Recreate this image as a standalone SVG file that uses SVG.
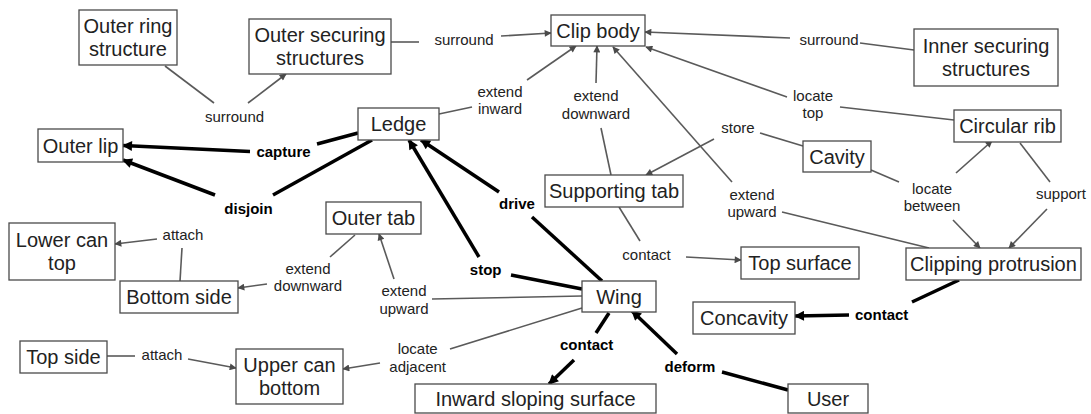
<svg xmlns="http://www.w3.org/2000/svg" width="1091" height="414" viewBox="0 0 1091 414">
<style>
.n rect{fill:#fff;stroke:#4a4a4a;stroke-width:1.3}
.n text{font-family:"Liberation Sans",Arial,sans-serif;font-size:20px;fill:#222;text-anchor:middle}
.l{font-family:"Liberation Sans",Arial,sans-serif;font-size:15px;fill:#222;text-anchor:middle}
.b{font-weight:bold;fill:#000}
.t{stroke:#5a5a5a;stroke-width:1.6;fill:none}
.k{stroke:#000;stroke-width:3.5;fill:none}
.ta{marker-end:url(#ag)}
.ka{marker-end:url(#ak)}
</style>
<defs>
<marker id="ag" viewBox="0 0 10 10" refX="9" refY="5" markerWidth="9" markerHeight="7" markerUnits="userSpaceOnUse" orient="auto"><path d="M0,0 L10,5 L0,10 z" fill="#4a4a4a"/></marker>
<marker id="ak" viewBox="0 0 10 10" refX="9" refY="5" markerWidth="12" markerHeight="10" markerUnits="userSpaceOnUse" orient="auto"><path d="M0,0 L10,5 L0,10 z" fill="#000"/></marker>
</defs>
<rect width="1091" height="414" fill="#fff"/>
<g id="connectors">
<line class="t" x1="165" y1="66" x2="214" y2="103"/>
<line class="t ta" x1="248" y1="103" x2="286" y2="74"/>
<line class="t" x1="391" y1="42" x2="419" y2="42"/>
<line class="t ta" x1="501" y1="36" x2="551" y2="33"/>
<line class="t" x1="439" y1="114" x2="472" y2="107"/>
<line class="t ta" x1="527" y1="80" x2="576" y2="46"/>
<line class="t ta" x1="596" y1="83" x2="597" y2="46"/>
<line class="t" x1="611" y1="175" x2="601" y2="128"/>
<line class="t ta" x1="732" y1="182" x2="613" y2="47"/>
<line class="t ta" x1="790" y1="38" x2="645" y2="32"/>
<line class="t" x1="860" y1="43" x2="914" y2="50"/>
<line class="t ta" x1="787" y1="97" x2="646" y2="47"/>
<line class="t" x1="840" y1="107" x2="954" y2="120"/>
<line class="t" x1="760" y1="133" x2="803" y2="146"/>
<line class="t ta" x1="714" y1="139" x2="646" y2="175"/>
<line class="t" x1="871" y1="170" x2="899" y2="182"/>
<line class="t ta" x1="956" y1="173" x2="992" y2="141"/>
<line class="t" x1="1020" y1="143" x2="1050" y2="182"/>
<line class="t ta" x1="1047" y1="209" x2="1009" y2="248"/>
<line class="t ta" x1="953" y1="220" x2="980" y2="248"/>
<line class="t" x1="782" y1="212" x2="929" y2="248"/>
<line class="t" x1="619" y1="207" x2="640" y2="241"/>
<line class="t ta" x1="686" y1="257" x2="741" y2="260"/>
<line class="t" x1="582" y1="296" x2="432" y2="299"/>
<line class="t ta" x1="394" y1="279" x2="379" y2="234"/>
<line class="t" x1="582" y1="308" x2="450" y2="349"/>
<line class="t ta" x1="380" y1="363" x2="343" y2="369"/>
<line class="t" x1="107" y1="356" x2="135" y2="356"/>
<line class="t ta" x1="188" y1="359" x2="236" y2="368"/>
<line class="t ta" x1="157" y1="239" x2="115" y2="244"/>
<line class="t" x1="180" y1="281" x2="182" y2="248"/>
<line class="t" x1="355" y1="235" x2="330" y2="257"/>
<line class="t ta" x1="267" y1="284" x2="238" y2="288"/>
<line class="k ka" x1="250" y1="151.5" x2="123" y2="145.5"/>
<line class="k" x1="358" y1="133" x2="317" y2="144"/>
<line class="k ka" x1="215" y1="195" x2="123" y2="160"/>
<line class="k" x1="372" y1="140" x2="273" y2="195"/>
<line class="k ka" x1="479" y1="257" x2="409" y2="140"/>
<line class="k" x1="582" y1="289" x2="511" y2="275"/>
<line class="k ka" x1="499" y1="192" x2="421" y2="140"/>
<line class="k" x1="602" y1="281" x2="532" y2="217"/>
<line class="k" x1="609" y1="313" x2="596" y2="333"/>
<line class="k ka" x1="574" y1="360" x2="549" y2="384"/>
<line class="k ka" x1="677" y1="354" x2="632" y2="311"/>
<line class="k" x1="722" y1="372" x2="788" y2="390"/>
<line class="k" x1="959" y1="280" x2="912" y2="302"/>
<line class="k ka" x1="849" y1="315" x2="795" y2="316"/>
</g>
<g id="labels">
<text class="l" x="234.5" y="122">surround</text>
<text class="l" x="464" y="45">surround</text>
<text class="l" x="829" y="45">surround</text>
<text class="l" x="500" y="96.5">extend</text>
<text class="l" x="500" y="114">inward</text>
<text class="l" x="596" y="101">extend</text>
<text class="l" x="596" y="119">downward</text>
<text class="l" x="813" y="101">locate</text>
<text class="l" x="813" y="118">top</text>
<text class="l" x="738" y="132.5">store</text>
<text class="l b" x="283.5" y="157">capture</text>
<text class="l b" x="248.5" y="214">disjoin</text>
<text class="l b" x="517" y="209">drive</text>
<text class="l" x="752" y="200">extend</text>
<text class="l" x="752" y="217">upward</text>
<text class="l" x="932" y="194">locate</text>
<text class="l" x="932" y="211">between</text>
<text class="l" x="1061" y="199">support</text>
<text class="l" x="183" y="239.5">attach</text>
<text class="l" x="308" y="273.5">extend</text>
<text class="l" x="308" y="291">downward</text>
<text class="l" x="404" y="296">extend</text>
<text class="l" x="404" y="313.5">upward</text>
<text class="l b" x="485.7" y="275">stop</text>
<text class="l" x="646.5" y="260">contact</text>
<text class="l b" x="881.7" y="320">contact</text>
<text class="l b" x="586.7" y="349.5">contact</text>
<text class="l" x="417.7" y="354">locate</text>
<text class="l" x="417.7" y="372">adjacent</text>
<text class="l b" x="690" y="372">deform</text>
<text class="l" x="162" y="360">attach</text>
</g>
<g id="n1" class="n"><rect x="79" y="10" width="98" height="55"/><text x="128" y="33">Outer ring</text><text x="128" y="56">structure</text></g>
<g id="n2" class="n"><rect x="249" y="19" width="142" height="55"/><text x="320" y="42">Outer securing</text><text x="320" y="65">structures</text></g>
<g id="n3" class="n"><rect x="551" y="15" width="94" height="31"/><text x="598" y="37.5">Clip body</text></g>
<g id="n4" class="n"><rect x="914" y="29" width="144" height="57"/><text x="986" y="53">Inner securing</text><text x="986" y="76">structures</text></g>
<g id="n5" class="n"><rect x="358" y="108" width="81" height="32"/><text x="398.5" y="131">Ledge</text></g>
<g id="n6" class="n"><rect x="38" y="129" width="85" height="33"/><text x="80.5" y="152.5">Outer lip</text></g>
<g id="n7" class="n"><rect x="954" y="110" width="107" height="32"/><text x="1007.5" y="133">Circular rib</text></g>
<g id="n8" class="n"><rect x="803" y="141" width="68" height="31"/><text x="837" y="163.5">Cavity</text></g>
<g id="n9" class="n"><rect x="545" y="175" width="138" height="32"/><text x="614" y="198">Supporting tab</text></g>
<g id="n10" class="n"><rect x="326" y="202" width="95" height="32"/><text x="373.5" y="225">Outer tab</text></g>
<g id="n11" class="n"><rect x="9" y="223" width="106" height="57"/><text x="62" y="247">Lower can</text><text x="62" y="270">top</text></g>
<g id="n12" class="n"><rect x="120" y="281" width="118" height="32"/><text x="179" y="304">Bottom side</text></g>
<g id="n13" class="n"><rect x="741" y="247" width="118" height="32"/><text x="800" y="270">Top surface</text></g>
<g id="n14" class="n"><rect x="906" y="248" width="175" height="32"/><text x="993.5" y="271">Clipping protrusion</text></g>
<g id="n15" class="n"><rect x="582" y="281" width="74" height="31"/><text x="619" y="303.5">Wing</text></g>
<g id="n16" class="n"><rect x="693" y="302" width="102" height="32"/><text x="744" y="325">Concavity</text></g>
<g id="n17" class="n"><rect x="20" y="341" width="87" height="32"/><text x="63.5" y="364">Top side</text></g>
<g id="n18" class="n"><rect x="236" y="349" width="107" height="55"/><text x="289.5" y="372">Upper can</text><text x="289.5" y="395">bottom</text></g>
<g id="n19" class="n"><rect x="415" y="384" width="241" height="29"/><text x="535.5" y="405.5">Inward sloping surface</text></g>
<g id="n20" class="n"><rect x="788" y="384" width="80" height="29"/><text x="828" y="406">User</text></g>
</svg>
